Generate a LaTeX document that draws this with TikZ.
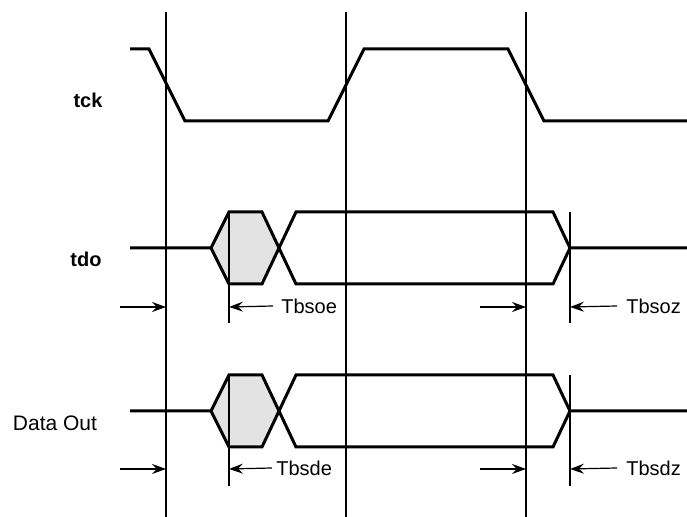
\documentclass[tikz,border=0pt]{standalone}
\usepackage{fontspec}
\setmainfont{Liberation Sans}
\usetikzlibrary{arrows.meta}

\begin{document}
\begin{tikzpicture}[
  x=0.5pt, y=-0.5pt,
  wave/.style={line width=1.5pt, line join=miter},
  edge/.style={line width=0.6pt},
  tarrow/.style={line width=0.6pt, -{Stealth[length=7pt, width=5pt, inset=2.5pt]}},
  lbl/.style={font=\fontsize{10}{12}\selectfont, inner sep=0pt},
  sig/.style={lbl, font=\fontsize{10}{12}\selectfont\bfseries},
]
  \useasboundingbox (0,0) rectangle (687,517);

  % clock edge markers
  \draw[edge] (166,12) -- (166,517);
  \draw[edge] (346,12) -- (346,517);
  \draw[edge] (526,12) -- (526,517);
  \draw[edge] (229,212) -- (229,323);
  \draw[edge] (570,212) -- (570,323);
  \draw[edge] (229,375) -- (229,486);
  \draw[edge] (570,375) -- (570,486);

  % tck
  \draw[wave] (130,49) -- (149,49) -- (185,121) -- (328,121) -- (364,49)
    -- (508,49) -- (544,121) -- (687,121);

  % tdo
  \fill[black!11] (211,248) -- (229,212) -- (262,212) -- (278,248) -- (262,284) -- (229,284) -- cycle;
  \draw[edge] (229,212) -- (229,284);
  \draw[wave] (130,248) -- (211,248) -- (229,212) -- (262,212) -- (296,284) -- (553,284) -- (570,248) -- (687,248);
  \draw[wave] (211,248) -- (229,284) -- (262,284) -- (296,212) -- (553,212) -- (570,248);

  % Data Out
  \fill[black!11] (211,411) -- (229,375) -- (262,375) -- (278,411) -- (262,447) -- (229,447) -- cycle;
  \draw[edge] (229,375) -- (229,447);
  \draw[wave] (130,411) -- (211,411) -- (229,375) -- (262,375) -- (296,447) -- (553,447) -- (570,411) -- (687,411);
  \draw[wave] (211,411) -- (229,447) -- (262,447) -- (296,375) -- (553,375) -- (570,411);

  % signal names
  \node[sig] (tck) at (88,100) {tck};
  \node[sig] (tdo) at (86,259) {tdo};
  \node[lbl, font=\fontsize{10.5}{12}\selectfont] (dout) at (55,423) {Data Out};

  % timing labels
  \node[lbl, anchor=west] (tbsoe) at (281,306) {Tbsoe};
  \node[lbl, anchor=west] (tbsoz) at (626,306) {Tbsoz};
  \node[lbl, anchor=west] (tbsde) at (276,468) {Tbsde};
  \node[lbl, anchor=west] (tbsdz) at (626,468) {Tbsdz};

  \coordinate (oeA) at (120,307);
  \coordinate (oeB) at (166,307);
  \coordinate (oeC) at (229,307);
  \coordinate (ozA) at (480,307);
  \coordinate (ozB) at (526,307);
  \coordinate (ozC) at (570,307);
  \coordinate (deA) at (120,469);
  \coordinate (deB) at (166,469);
  \coordinate (deC) at (229,469);
  \coordinate (dzA) at (480,469);
  \coordinate (dzB) at (526,469);
  \coordinate (dzC) at (570,469);

  \draw[tarrow] (oeA) -- (oeB);
  \draw[tarrow] (tbsoe.west) ++(-8,0) -- (oeC);
  \draw[tarrow] (ozA) -- (ozB);
  \draw[tarrow] (tbsoz.west) ++(-9,0) -- (ozC);
  \draw[tarrow] (deA) -- (deB);
  \draw[tarrow] (tbsde.west) ++(-4,0) -- (deC);
  \draw[tarrow] (dzA) -- (dzB);
  \draw[tarrow] (tbsdz.west) ++(-9,0) -- (dzC);
\end{tikzpicture}
\end{document}
